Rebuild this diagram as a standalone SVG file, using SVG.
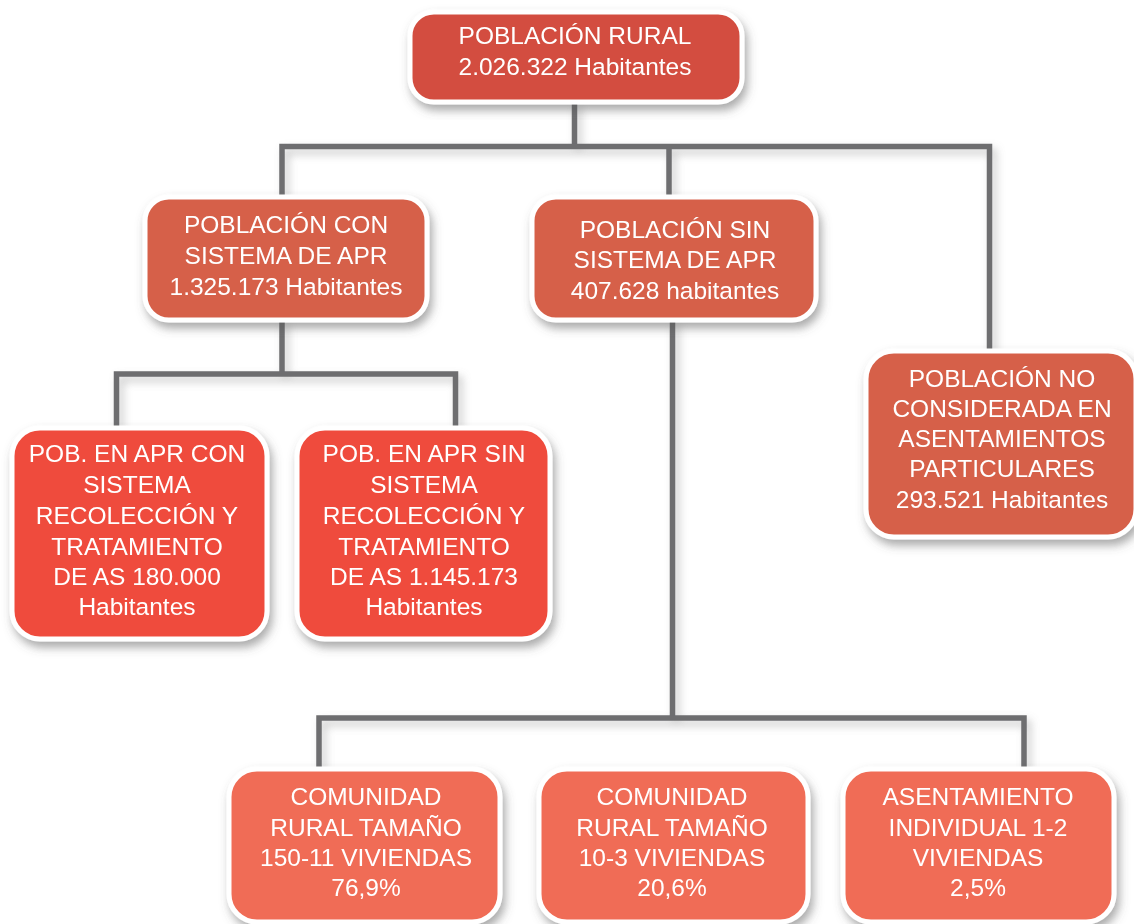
<svg xmlns="http://www.w3.org/2000/svg" width="1134" height="924" viewBox="0 0 1134 924">
<defs>
<filter id="sh" x="-20%" y="-20%" width="140%" height="140%">
<feDropShadow dx="3" dy="6" stdDeviation="5" flood-color="#555" flood-opacity="0.5"/>
</filter>
<filter id="lsh" x="-20%" y="-20%" width="140%" height="140%">
<feDropShadow dx="4" dy="5" stdDeviation="4" flood-color="#888" flood-opacity="0.45"/>
</filter>
<style>
.c{fill:none;stroke:#6e6e70;stroke-width:5.5;stroke-linejoin:miter;stroke-linecap:butt}
.b{stroke:#fff;stroke-width:5}
.t{font-family:"Liberation Sans",Arial,sans-serif;font-size:24.5px;fill:#fff;text-anchor:middle}
.r0{fill:#d34e3f}
.r1{fill:#d6604a}
.r2{fill:#ef4c3d}
.r3{fill:#f06c56}
</style>
</defs>
<rect width="1134" height="924" fill="#fff"/>
<g id="connectors" filter="url(#lsh)">
<path class="c" d="M574.5,102 V146.5"/>
<path class="c" d="M282,197 V146.5 H989.5 V351"/>
<path class="c" d="M669,146.5 V197"/>
<path class="c" d="M282,320 V374"/>
<path class="c" d="M116.5,428 V374 H455.5 V428"/>
<path class="c" d="M672.5,320 V718"/>
<path class="c" d="M319,769 V718 H1024 V769"/>
</g>
<g id="n-rural" filter="url(#sh)">
<rect class="b r0" x="410" y="12" width="332" height="90" rx="24"/>
<text class="t" x="575" y="44">POBLACIÓN RURAL</text>
<text class="t" x="575" y="75">2.026.322 Habitantes</text>
</g>
<g id="n-con" filter="url(#sh)">
<rect class="b r1" x="145" y="197" width="282" height="123" rx="24"/>
<text class="t" x="286" y="233">POBLACIÓN CON</text>
<text class="t" x="286" y="264">SISTEMA DE APR</text>
<text class="t" x="286" y="295">1.325.173 Habitantes</text>
</g>
<g id="n-sin" filter="url(#sh)">
<rect class="b r1" x="532" y="197" width="284" height="123" rx="24"/>
<text class="t" x="675" y="238">POBLACIÓN SIN</text>
<text class="t" x="675" y="268">SISTEMA DE APR</text>
<text class="t" x="675" y="299">407.628 habitantes</text>
</g>
<g id="n-no" filter="url(#sh)">
<rect class="b r1" x="866" y="351" width="270" height="186" rx="28"/>
<text class="t" x="1002" y="387">POBLACIÓN NO</text>
<text class="t" x="1002" y="417">CONSIDERADA EN</text>
<text class="t" x="1002" y="447">ASENTAMIENTOS</text>
<text class="t" x="1002" y="477">PARTICULARES</text>
<text class="t" x="1002" y="508">293.521 Habitantes</text>
</g>
<g id="n-apr-con" filter="url(#sh)">
<rect class="b r2" x="12" y="428" width="255" height="211" rx="28"/>
<text class="t" x="137" y="462">POB. EN APR CON</text>
<text class="t" x="137" y="493">SISTEMA</text>
<text class="t" x="137" y="524">RECOLECCIÓN Y</text>
<text class="t" x="137" y="555">TRATAMIENTO</text>
<text class="t" x="137" y="585">DE AS 180.000</text>
<text class="t" x="137" y="615">Habitantes</text>
</g>
<g id="n-apr-sin" filter="url(#sh)">
<rect class="b r2" x="297" y="428" width="253" height="211" rx="28"/>
<text class="t" x="424" y="462">POB. EN APR SIN</text>
<text class="t" x="424" y="493">SISTEMA</text>
<text class="t" x="424" y="524">RECOLECCIÓN Y</text>
<text class="t" x="424" y="555">TRATAMIENTO</text>
<text class="t" x="424" y="585">DE AS 1.145.173</text>
<text class="t" x="424" y="615">Habitantes</text>
</g>
<g id="n-com150" filter="url(#sh)">
<rect class="b r3" x="229" y="769" width="271" height="153" rx="28"/>
<text class="t" x="366" y="805">COMUNIDAD</text>
<text class="t" x="366" y="836">RURAL TAMAÑO</text>
<text class="t" x="366" y="866">150-11 VIVIENDAS</text>
<text class="t" x="366" y="896">76,9%</text>
</g>
<g id="n-com10" filter="url(#sh)">
<rect class="b r3" x="539" y="769" width="269" height="153" rx="28"/>
<text class="t" x="672" y="805">COMUNIDAD</text>
<text class="t" x="672" y="836">RURAL TAMAÑO</text>
<text class="t" x="672" y="866">10-3 VIVIENDAS</text>
<text class="t" x="672" y="896">20,6%</text>
</g>
<g id="n-indiv" filter="url(#sh)">
<rect class="b r3" x="843" y="769" width="271" height="153" rx="28"/>
<text class="t" x="978" y="805">ASENTAMIENTO</text>
<text class="t" x="978" y="836">INDIVIDUAL 1-2</text>
<text class="t" x="978" y="866">VIVIENDAS</text>
<text class="t" x="978" y="896">2,5%</text>
</g>
</svg>
